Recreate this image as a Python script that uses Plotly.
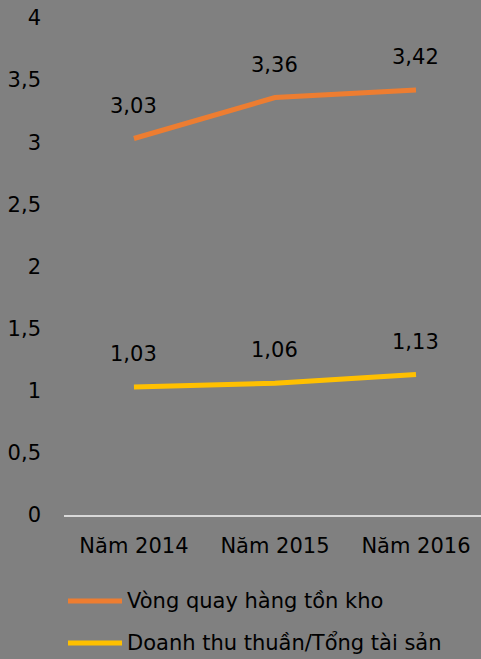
import plotly.graph_objects as go

# Data
years = ["Năm 2014", "Năm 2015", "Năm 2016"]
inventory_turnover = [3.03, 3.36, 3.42]
asset_turnover = [1.03, 1.06, 1.13]
series_names = ["Vòng quay hàng tồn kho", "Doanh thu thuần/Tổng tài sản"]
series_colors = ["#ED7D31", "#FFC000"]

W, H = 481, 659
ML, MR, MT, MB = 64, 0, 18, 144
FONT = "DejaVu Sans"
BG = "#808080"


def fmt(v):
    return f"{v:.2f}".replace(".", ",")


def px_to_paper(x, y):
    pw = W - ML - MR
    ph = H - MT - MB
    return (x - ML) / pw, (H - MB - y) / ph


fig = go.Figure()
for name, vals, color in zip(series_names, [inventory_turnover, asset_turnover], series_colors):
    fig.add_trace(go.Scatter(
        x=years, y=vals, name=name, mode="lines",
        line=dict(color=color, width=5),
        showlegend=False,
    ))
    for xv, yv in zip(years, vals):
        fig.add_annotation(
            x=xv, y=yv, text=fmt(yv), showarrow=False,
            yshift=33, font=dict(family=FONT, size=21, color="black"),
        )

# hand-made legend (longer line swatches than plotly's default)
for i, (name, color) in enumerate(zip(series_names, series_colors)):
    ly = 601 + i * 42
    x0, y0 = px_to_paper(68, ly)
    x1, _ = px_to_paper(122, ly)
    fig.add_shape(type="line", xref="paper", yref="paper",
                  x0=x0, x1=x1, y0=y0, y1=y0,
                  line=dict(color=color, width=5))
    tx, _ = px_to_paper(125, ly)
    fig.add_annotation(xref="paper", yref="paper", x=tx, y=y0,
                       xanchor="left", yanchor="middle", showarrow=False,
                       text=name, font=dict(family=FONT, size=21, color="black"))

fig.update_layout(
    width=W, height=H,
    margin=dict(l=ML, r=MR, t=MT, b=MB),
    paper_bgcolor=BG, plot_bgcolor=BG,
    font=dict(family=FONT, size=21, color="black"),
    separators=",.",
    showlegend=False,
)
fig.update_xaxes(
    range=[-0.496, 2.461], showgrid=False, zeroline=False,
    showline=True, linecolor="#D9D9D9", linewidth=1.5,
    ticks="", ticklabelstandoff=11,
)
fig.update_yaxes(
    range=[0, 4], dtick=0.5, showgrid=False, zeroline=False,
    showline=False, ticks="", ticklabelstandoff=22,
)

fig.write_html("out.html", config={"displayModeBar": False},
               post_script="document.body.style.margin='0';")
